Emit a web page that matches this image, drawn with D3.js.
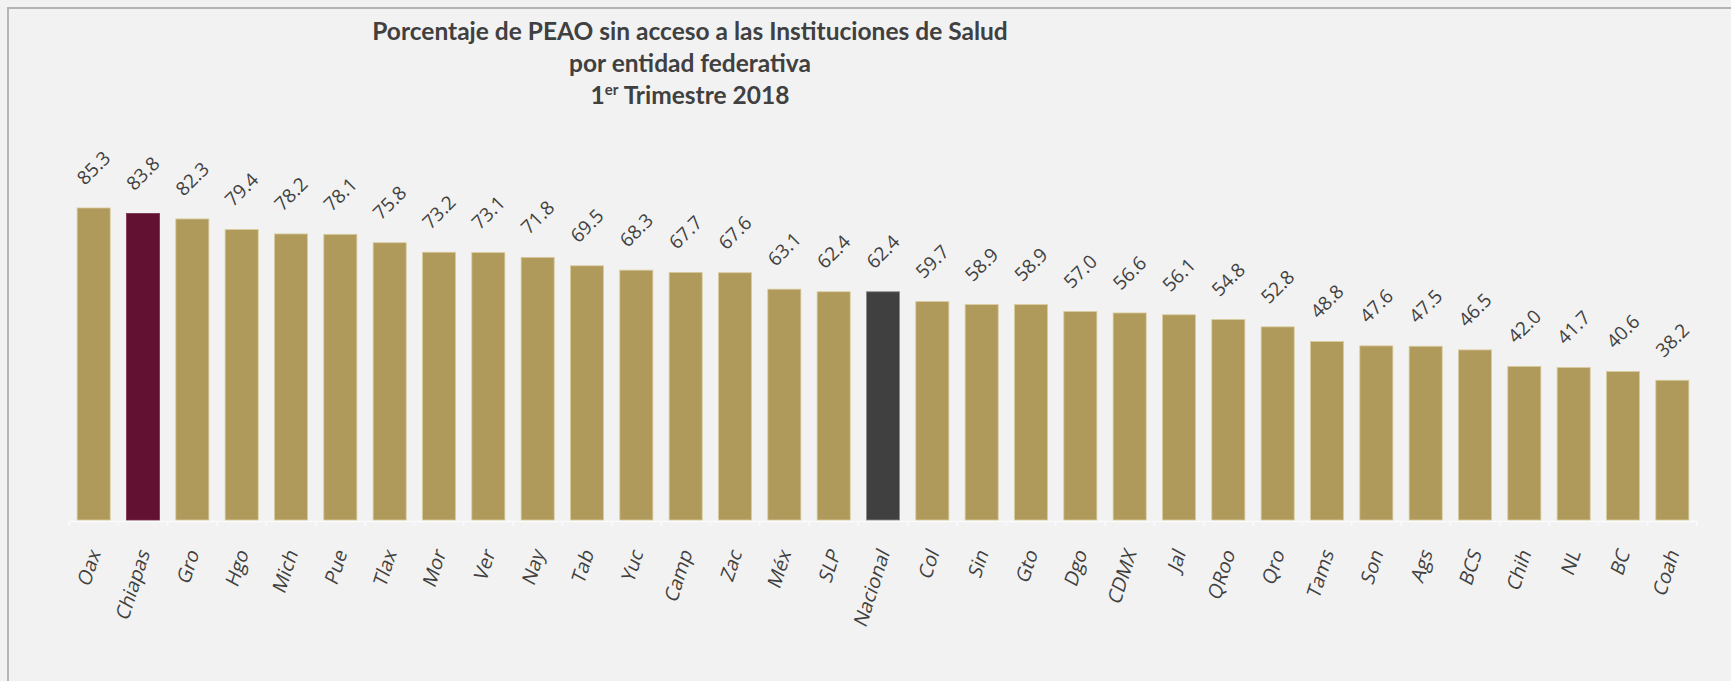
<!DOCTYPE html>
<html>
<head>
<meta charset="utf-8">
<script src="https://cdn.jsdelivr.net/npm/d3@7"></script>
<style>
  html, body { margin: 0; padding: 0; background: #f2f2f2; }
  svg { display: block; }
</style>
</head>
<body>
<svg id="chart" width="1731" height="681"></svg>
<script>
// data
const categories = ['Oax', 'Chiapas', 'Gro', 'Hgo', 'Mich', 'Pue', 'Tlax', 'Mor', 'Ver', 'Nay', 'Tab',
    'Yuc', 'Camp', 'Zac', 'Méx', 'SLP', 'Nacional', 'Col', 'Sin', 'Gto', 'Dgo', 'CDMX', 'Jal',
    'QRoo', 'Qro', 'Tams', 'Son', 'Ags', 'BCS', 'Chih', 'NL', 'BC', 'Coah'];
const values = [85.3, 83.8, 82.3, 79.4, 78.2, 78.1, 75.8, 73.2, 73.1, 71.8, 69.5,
    68.3, 67.7, 67.6, 63.1, 62.4, 62.4, 59.7, 58.9, 58.9, 57.0, 56.6, 56.1,
    54.8, 52.8, 48.8, 47.6, 47.5, 46.5, 42.0, 41.7, 40.6, 38.2];
const titleLines = ['Porcentaje de PEAO sin acceso a las Instituciones de Salud', 'por entidad federativa'];

const data = categories.map((c, i) => ({ name: c, value: values[i] }));

const fillFor = function(name) {
    if (name === 'Chiapas') return '#621132';
    if (name === 'Nacional') return '#404040';
    return '#b09a5b';
};
const strokeFor = function(name) {
    if (name === 'Chiapas') return '#7a3050';
    if (name === 'Nacional') return '#8a8a8a';
    return '#d9cc9f';
};

const svg = d3.select('#chart');
const baseY = 520;

// frame (only top and left edges visible)
svg.append('path')
    .attr('d', 'M8,681 V8 H1731')
    .attr('fill', 'none')
    .attr('stroke', '#b4b4b4')
    .attr('stroke-width', 2);

const x = d3.scaleBand()
    .domain(categories)
    .range([69, 1697])
    .paddingInner(0.33)
    .paddingOuter(0.165);

const y = d3.scaleLinear()
    .domain([0, 100])
    .range([baseY, baseY - 365.8]);

// faint category axis
const step = x.step();
const gap = (step - x.bandwidth()) / 2;
const axis = svg.append('g').attr('stroke', '#fbfbfb').attr('stroke-width', 1.5);
axis.append('line')
    .attr('x1', 69).attr('x2', 1697)
    .attr('y1', baseY + 1.5).attr('y2', baseY + 1.5);
axis.selectAll('line.tick')
    .data(d3.range(categories.length + 1))
    .enter()
    .append('line')
    .attr('class', 'tick')
    .attr('x1', (i) => x(categories[0]) - gap + i * step)
    .attr('x2', (i) => x(categories[0]) - gap + i * step)
    .attr('y1', baseY + 1.5)
    .attr('y2', baseY + 6);

svg.append('g')
    .selectAll('rect')
    .data(data)
    .enter()
    .append('rect')
    .attr('x', (d) => x(d.name))
    .attr('y', (d) => y(d.value))
    .attr('width', x.bandwidth())
    .attr('height', (d) => baseY - y(d.value))
    .attr('fill', (d) => fillFor(d.name))
    .attr('stroke', (d) => strokeFor(d.name))
    .attr('stroke-width', 0.8);

// value labels at 45 degrees
svg.append('g')
    .selectAll('text')
    .data(data)
    .enter()
    .append('text')
    .attr('transform', (d) => `translate(${x(d.name) + x.bandwidth() / 2},${y(d.value) - 40}) rotate(-45)`)
    .attr('text-anchor', 'middle')
    .attr('dy', '0.35em')
    .attr('font-family', 'Open Sans, sans-serif')
    .attr('font-size', 19)
    .attr('fill', '#404040')
    .text((d) => d.value.toFixed(1));

// category labels, slanted a little like the original
svg.append('g')
    .selectAll('text')
    .data(data)
    .enter()
    .append('text')
    .attr('transform', (d) => `translate(${x(d.name) + x.bandwidth() / 2 + 1},${baseY + 30}) rotate(-72) skewX(-10)`)
    .attr('text-anchor', 'end')
    .attr('dy', '0.35em')
    .attr('font-family', 'Open Sans, sans-serif')
    .attr('font-size', 19.5)
    .attr('fill', '#404040')
    .text((d) => d.name);

// title
const titleX = 690;
const title = svg.append('g')
    .attr('text-anchor', 'middle')
    .attr('font-family', 'Lato, sans-serif')
    .attr('font-weight', 'bold')
    .attr('font-size', 24.5)
    .attr('fill', '#404040');
titleLines.forEach((t, i) => {
    title.append('text').attr('x', titleX).attr('y', 40 + i * 32).text(t);
});
const line3 = title.append('text')
    .attr('x', titleX).attr('y', 104);
line3.append('tspan').text('1');
line3.append('tspan').attr('font-size', 15).attr('dy', -9).text('er');
line3.append('tspan').attr('dy', 9).text(' Trimestre 2018');
</script>
</body>
</html>
